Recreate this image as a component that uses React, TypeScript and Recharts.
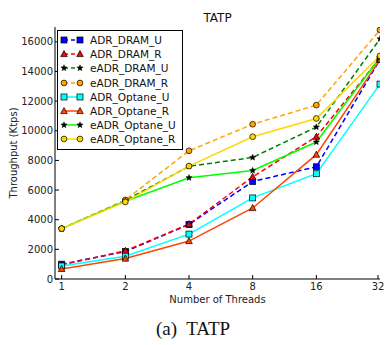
import { LineChart, Line, XAxis, YAxis } from 'recharts';

const threads = [1, 2, 4, 8, 16, 32];
const yTicks = [0, 2000, 4000, 6000, 8000, 10000, 12000, 14000, 16000];

const adrDramU = [1000, 1850, 3680, 6580, 7570, 14800];
const adrDramR = [950, 1900, 3700, 6890, 9600, 14900];
const eadrDramU = [3400, 5300, 7600, 8200, 10250, 16200];
const eadrDramR = [3400, 5330, 8650, 10440, 11730, 16800];
const adrOptaneU = [880, 1540, 3030, 5470, 7100, 13150];
const adrOptaneR = [680, 1380, 2560, 4790, 8390, 14800];
const eadrOptaneU = [3400, 5250, 6830, 7320, 9240, 14950];
const eadrOptaneR = [3400, 5200, 7620, 9600, 10830, 15050];

const data = threads.map((t, i) => ({
  t,
  adrDramU: adrDramU[i],
  adrDramR: adrDramR[i],
  eadrDramU: eadrDramU[i],
  eadrDramR: eadrDramR[i],
  adrOptaneU: adrOptaneU[i],
  adrOptaneR: adrOptaneR[i],
  eadrOptaneU: eadrOptaneU[i],
  eadrOptaneR: eadrOptaneR[i],
}));

type Marker = 'square' | 'triangle' | 'star' | 'circle';

const series: { key: string; name: string; color: string; dashed: boolean; marker: Marker; fill: string }[] = [
  { key: 'adrDramU', name: 'ADR_DRAM_U', color: '#0000ff', dashed: true, marker: 'square', fill: '#0000ff' },
  { key: 'adrDramR', name: 'ADR_DRAM_R', color: '#ff0000', dashed: true, marker: 'triangle', fill: '#ff0000' },
  { key: 'eadrDramU', name: 'eADR_DRAM_U', color: '#008000', dashed: true, marker: 'star', fill: '#000000' },
  { key: 'eadrDramR', name: 'eADR_DRAM_R', color: '#ffa500', dashed: true, marker: 'circle', fill: '#ffa500' },
  { key: 'adrOptaneU', name: 'ADR_Optane_U', color: '#00ffff', dashed: false, marker: 'square', fill: '#00ffff' },
  { key: 'adrOptaneR', name: 'ADR_Optane_R', color: '#ff4500', dashed: false, marker: 'triangle', fill: '#ff4500' },
  { key: 'eadrOptaneU', name: 'eADR_Optane_U', color: '#00ff00', dashed: false, marker: 'star', fill: '#000000' },
  { key: 'eadrOptaneR', name: 'eADR_Optane_R', color: '#ffd700', dashed: false, marker: 'circle', fill: '#ffd700' },
];

const FONT = '"DejaVu Sans", sans-serif';

function starPoints(cx: number, cy: number, r: number) {
  const pts: string[] = [];
  for (let i = 0; i < 10; i++) {
    const rr = i % 2 === 0 ? r : r * 0.45;
    const a = -Math.PI / 2 + (i * Math.PI) / 5;
    pts.push(`${cx + rr * Math.cos(a)},${cy + rr * Math.sin(a)}`);
  }
  return pts.join(' ');
}

function MarkerShape({ cx, cy, marker, fill }: { cx: number; cy: number; marker: Marker; fill: string }) {
  if (marker === 'square')
    return <rect x={cx - 3} y={cy - 3} width={6} height={6} fill={fill} stroke="#000" strokeWidth={0.7} />;
  if (marker === 'triangle')
    return (
      <polygon
        points={`${cx},${cy - 3.5} ${cx - 3.3},${cy + 2.6} ${cx + 3.3},${cy + 2.6}`}
        fill={fill}
        stroke="#000"
        strokeWidth={0.7}
      />
    );
  if (marker === 'star') return <polygon points={starPoints(cx, cy, 3.3)} fill={fill} stroke="#000" strokeWidth={0.4} />;
  return <circle cx={cx} cy={cy} r={2.9} fill={fill} stroke="#000" strokeWidth={0.7} />;
}

const makeDot = (marker: Marker, fill: string) => (props: any) => {
  const { cx, cy, index } = props;
  if (cx == null || cy == null) return <g key={index} />;
  return <MarkerShape key={index} cx={cx} cy={cy} marker={marker} fill={fill} />;
};

const LeftTick = (props: any) => {
  const { x, y, payload } = props;
  return (
    <g>
      <line x1={x} x2={x + 4} y1={y} y2={y} stroke="#000" />
      <text x={x - 2} y={y} dy={3.5} textAnchor="end" fontSize={10} fill="#222" fontFamily={FONT}>
        {payload.value}
      </text>
    </g>
  );
};

const RightTick = (props: any) => {
  const { x, y } = props;
  return <line x1={x} x2={x - 4} y1={y} y2={y} stroke="#000" />;
};

const BottomTick = (props: any) => {
  const { x, y, payload } = props;
  return (
    <g>
      <line x1={x} x2={x} y1={y} y2={y - 4} stroke="#000" />
      <text x={x} y={y + 11} textAnchor="middle" fontSize={10} fill="#222" fontFamily={FONT}>
        {payload.value}
      </text>
    </g>
  );
};

const TopTick = (props: any) => {
  const { x, y } = props;
  return <line x1={x} x2={x} y1={y} y2={y + 4} stroke="#000" />;
};

function LegendBox() {
  return (
    <div
      style={{
        position: 'absolute',
        left: 57,
        top: 30,
        border: '1px solid #000',
        background: '#fff',
        padding: '2px 6px 2px 2px',
        fontFamily: FONT,
        fontSize: 10.5,
        color: '#111',
        zIndex: 2,
      }}
    >
      {series.map((s) => (
        <div key={s.key} style={{ display: 'flex', alignItems: 'center', height: 14.2 }}>
          <svg width={24} height={12} style={{ marginRight: 6 }}>
            <line
              x1={4}
              x2={20}
              y1={6}
              y2={6}
              stroke={s.color}
              strokeWidth={1.5}
              strokeDasharray={s.dashed ? '4 3' : undefined}
            />
            <MarkerShape cx={4} cy={6} marker={s.marker} fill={s.fill} />
            <MarkerShape cx={20} cy={6} marker={s.marker} fill={s.fill} />
          </svg>
          <span>{s.name}</span>
        </div>
      ))}
    </div>
  );
}

export default function App() {
  return (
    <div style={{ position: 'absolute', left: 0, top: 0, width: 386, height: 345, background: '#fff' }}>
      <div
        style={{
          position: 'absolute',
          left: 55,
          width: 325,
          top: 11,
          textAlign: 'center',
          fontFamily: FONT,
          fontSize: 12,
          color: '#111',
        }}
      >
        TATP
      </div>
      <LineChart width={386} height={345} data={data} margin={{ top: 27, right: 6, bottom: 36, left: 10 }}>
        <XAxis
          dataKey="t"
          type="number"
          scale="log"
          domain={[0.93, 32]}
          allowDataOverflow
          ticks={threads}
          tickSize={0}
          tickMargin={0}
          tick={<BottomTick />}
          tickLine={false}
          axisLine={{ stroke: '#000' }}
          height={30}
          label={{ value: 'Number of Threads', position: 'insideBottom', offset: 6, fontSize: 10, fill: '#222', fontFamily: FONT }}
        />
        <XAxis
          xAxisId="top"
          orientation="top"
          dataKey="t"
          type="number"
          scale="log"
          domain={[0.93, 32]}
          allowDataOverflow
          ticks={threads}
          tickSize={0}
          tickMargin={0}
          tick={<TopTick />}
          tickLine={false}
          axisLine={{ stroke: '#000' }}
          height={0}
        />
        <YAxis
          domain={[0, 17000]}
          allowDataOverflow
          ticks={yTicks}
          tickSize={0}
          tickMargin={0}
          tick={<LeftTick />}
          tickLine={false}
          axisLine={{ stroke: '#000' }}
          width={45}
          label={{
            value: 'Throughput (Ktps)',
            angle: -90,
            position: 'insideLeft',
            offset: 3,
            style: { textAnchor: 'middle', fontSize: 10, fill: '#222', fontFamily: FONT },
          }}
        />
        <YAxis
          yAxisId="right"
          orientation="right"
          domain={[0, 17000]}
          allowDataOverflow
          ticks={yTicks}
          tickSize={0}
          tickMargin={0}
          tick={<RightTick />}
          tickLine={false}
          axisLine={{ stroke: '#000' }}
          width={0}
        />
        {series.map((s) => (
          <Line
            key={s.key}
            dataKey={s.key}
            name={s.name}
            type="linear"
            stroke={s.color}
            strokeWidth={1.5}
            strokeDasharray={s.dashed ? '5 3' : undefined}
            dot={makeDot(s.marker, s.fill)}
            activeDot={false}
            isAnimationActive={false}
          />
        ))}
      </LineChart>
      <LegendBox />
      <div
        style={{
          position: 'absolute',
          left: 0,
          width: 386,
          top: 318,
          textAlign: 'center',
          fontFamily: '"Liberation Serif", "Times New Roman", serif',
          fontSize: 19,
          color: '#111',
        }}
      >
        (a)&nbsp; TATP
      </div>
    </div>
  );
}
